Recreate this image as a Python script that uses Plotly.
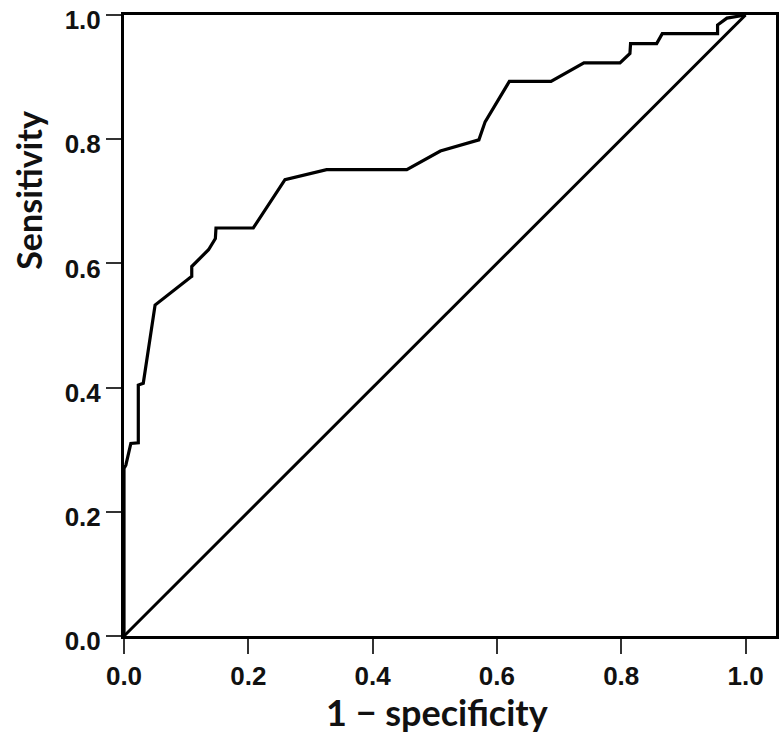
import plotly.graph_objects as go

# ROC curve points (1 - specificity, sensitivity)
fpr = [0.0, 0.0, 0.003, 0.011, 0.023, 0.023, 0.031, 0.050, 0.106, 0.109, 0.109, 0.136,
       0.147, 0.148, 0.208, 0.259, 0.326, 0.455, 0.509, 0.571, 0.581, 0.620, 0.687,
       0.740, 0.798, 0.814, 0.815, 0.857, 0.866, 0.955, 0.955, 0.970, 1.0]
tpr = [0.0, 0.270, 0.275, 0.310, 0.311, 0.404, 0.407, 0.533, 0.577, 0.579, 0.595, 0.622,
       0.640, 0.657, 0.657, 0.735, 0.751, 0.751, 0.781, 0.799, 0.828, 0.893, 0.893,
       0.923, 0.923, 0.938, 0.954, 0.954, 0.970, 0.970, 0.984, 0.995, 1.0]
ref_x = [0.0, 1.0]
ref_y = [0.0, 1.0]
tick_vals = [0.0, 0.2, 0.4, 0.6, 0.8, 1.0]
tick_text = ["0.0", "0.2", "0.4", "0.6", "0.8", "1.0"]
x_title = "1 − specificity"
y_title = "Sensitivity"

fig = go.Figure()
fig.add_trace(go.Scatter(x=fpr, y=tpr, mode="lines",
                         line=dict(color="black", width=3.2), showlegend=False))
fig.add_trace(go.Scatter(x=ref_x, y=ref_y, mode="lines",
                         line=dict(color="black", width=3), showlegend=False))

tick_font = dict(family="Liberation Sans, Arial", size=26, color="#111", weight="bold")
xtitle_font = dict(family="Lato, Open Sans, sans-serif", size=36, color="#111", weight="bold")
ytitle_font = dict(family="Lato, Open Sans, sans-serif", size=34, color="#111", weight="bold")

axis_common = dict(tickvals=tick_vals, ticktext=tick_text,
                   showgrid=False, zeroline=False, showline=True, linecolor="black",
                   linewidth=3, mirror=True, ticks="outside", ticklen=15, tickwidth=2,
                   tickcolor="#333", tickfont=tick_font, automargin=False,
                   ticklabeloverflow="allow")

fig.update_layout(
    width=784, height=746,
    margin=dict(l=124, r=8, t=15, b=110),
    paper_bgcolor="white", plot_bgcolor="white",
    xaxis=dict(range=[0, 1.049], **axis_common),
    yaxis=dict(range=[0, 1.0], ticklabelshift=5, **axis_common),
)

fig.add_annotation(text=x_title, xref="x", yref="paper", x=0.503, y=0,
                   xanchor="center", yanchor="top", yshift=-52,
                   showarrow=False, font=xtitle_font)
fig.add_annotation(text=y_title, xref="paper", yref="y", x=0, y=0.717,
                   xanchor="center", yanchor="middle", xshift=-95, textangle=-90,
                   showarrow=False, font=ytitle_font)

fig.write_html("out.html",
               config={"displayModeBar": False},
               post_script="document.body.style.margin='0';document.body.style.overflow='hidden';")
